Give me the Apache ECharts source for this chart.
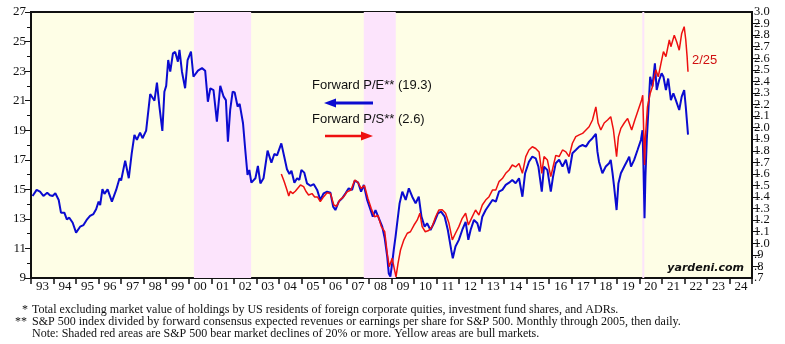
<!DOCTYPE html>
<html><head><meta charset="utf-8">
<script src="https://cdn.jsdelivr.net/npm/echarts@6/dist/echarts.min.js"></script>
<style>html,body{margin:0;padding:0;background:#fff;}#c{width:785px;height:344px;}</style>
</head><body><div id="c"></div>
<script>
// Decimal-year dates and values
const peX = [1993.07,1993.25,1993.4,1993.55,1993.72,1993.84,1993.96,1994.08,1994.23,1994.33,1994.48,1994.59,1994.7,1994.85,1995.0,1995.18,1995.33,1995.47,1995.62,1995.77,1995.89,1996.0,1996.07,1996.17,1996.26,1996.4,1996.59,1996.78,1996.93,1997.0,1997.18,1997.34,1997.47,1997.59,1997.7,1997.84,1997.95,1998.11,1998.29,1998.48,1998.59,1998.7,1998.83,1998.92,1999.0,1999.09,1999.18,1999.3,1999.4,1999.52,1999.59,1999.7,1999.84,1999.95,2000.1,2000.21,2000.29,2000.41,2000.59,2000.73,2000.85,2000.96,2001.1,2001.25,2001.4,2001.55,2001.65,2001.74,2001.84,2001.95,2002.04,2002.17,2002.26,2002.41,2002.51,2002.61,2002.69,2002.78,2002.96,2003.07,2003.18,2003.32,2003.5,2003.67,2003.8,2003.92,2004.11,2004.24,2004.36,2004.47,2004.56,2004.69,2004.81,2004.91,2005.0,2005.13,2005.25,2005.4,2005.55,2005.7,2005.84,2005.99,2006.14,2006.29,2006.41,2006.51,2006.66,2006.81,2006.96,2007.1,2007.25,2007.37,2007.52,2007.65,2007.77,2007.92,2008.07,2008.17,2008.29,2008.44,2008.59,2008.7,2008.81,2008.88,2008.95,2009.03,2009.1,2009.18,2009.25,2009.36,2009.48,2009.63,2009.77,2009.92,2010.07,2010.21,2010.33,2010.47,2010.58,2010.73,2010.88,2011.06,2011.2,2011.36,2011.5,2011.65,2011.72,2011.84,2011.99,2012.14,2012.29,2012.41,2012.51,2012.66,2012.81,2012.91,2013.03,2013.18,2013.33,2013.48,2013.63,2013.77,2013.92,2014.07,2014.22,2014.36,2014.51,2014.66,2014.81,2014.93,2015.1,2015.25,2015.4,2015.52,2015.67,2015.77,2015.92,2016.07,2016.17,2016.29,2016.44,2016.59,2016.74,2016.88,2017.03,2017.18,2017.33,2017.48,2017.63,2017.77,2017.92,2018.07,2018.14,2018.21,2018.36,2018.51,2018.66,2018.73,2018.81,2018.88,2018.99,2019.07,2019.18,2019.33,2019.48,2019.55,2019.63,2019.77,2019.92,2020.07,2020.14,2020.18,2020.23,2020.27,2020.33,2020.41,2020.48,2020.58,2020.69,2020.77,2020.88,2020.99,2021.07,2021.18,2021.28,2021.4,2021.51,2021.62,2021.77,2021.88,2021.99,2022.06,2022.12,2022.16];
const peY = [14.55,14.96,14.84,14.55,14.77,14.6,14.55,14.73,14.28,13.42,13.42,12.97,13.08,12.74,12.07,12.47,12.58,12.93,13.2,13.33,13.65,14.17,13.94,15.02,14.69,15.0,14.17,14.96,15.75,15.6,16.94,15.75,17.44,18.68,18.35,18.84,18.46,18.97,21.45,21.0,22.22,20.6,18.95,21.6,22.0,23.75,22.96,24.2,24.3,23.64,24.43,22.96,21.84,23.75,24.32,22.62,22.57,23.03,23.2,23.03,20.93,21.84,21.72,19.58,22.0,21.27,21.04,18.23,20.37,21.61,21.55,20.6,20.78,19.47,17.66,15.97,16.31,15.45,15.75,16.58,15.4,15.75,17.62,16.8,17.39,17.3,18.11,17.21,16.36,16.04,16.26,15.44,15.75,15.64,16.31,16.13,15.4,15.24,15.35,14.96,14.28,14.73,14.84,14.77,13.83,13.6,14.17,14.39,14.73,15.07,14.96,15.6,15.45,14.84,15.3,14.28,13.6,13.15,13.6,13.04,12.47,11.69,10.45,9.3,9.09,10.0,10.9,11.8,12.7,14.06,14.84,14.28,15.07,14.5,14.06,14.5,13.15,12.47,12.7,12.25,12.7,13.38,13.49,13.15,12.25,10.9,10.33,11.13,11.58,12.25,12.8,11.58,12.25,12.93,12.7,12.14,13.15,13.6,13.94,14.28,14.17,14.84,14.96,15.3,15.45,15.63,15.41,15.75,14.5,16.09,16.87,17.21,17.1,16.54,14.84,16.54,16.3,14.84,15.86,16.77,17.0,16.54,17.0,16.09,17.44,17.66,17.89,18.0,17.89,18.23,18.46,18.75,17.55,16.87,16.09,16.54,16.77,16.99,16.09,15.18,13.6,15.4,16.09,16.54,16.99,17.21,16.54,16.99,17.66,18.34,19.0,16.77,13.04,15.86,18.34,20.6,22.62,21.95,23.53,21.72,22.4,22.85,22.62,21.72,22.5,21.04,21.5,21.04,20.37,21.27,21.72,20.6,19.47,18.7];

const psX = [2004.11,2004.24,2004.36,2004.44,2004.51,2004.61,2004.73,2004.96,2005.1,2005.2,2005.32,2005.47,2005.59,2005.72,2005.84,2005.99,2006.14,2006.29,2006.44,2006.56,2006.7,2006.88,2007.03,2007.2,2007.37,2007.5,2007.65,2007.8,2007.95,2008.1,2008.25,2008.4,2008.55,2008.7,2008.81,2008.9,2009.03,2009.12,2009.2,2009.29,2009.4,2009.55,2009.7,2009.84,2010.0,2010.14,2010.26,2010.36,2010.5,2010.65,2010.8,2010.96,2011.1,2011.25,2011.4,2011.55,2011.7,2011.84,2011.99,2012.14,2012.29,2012.41,2012.55,2012.73,2012.88,2013.03,2013.18,2013.33,2013.48,2013.63,2013.77,2013.92,2014.07,2014.22,2014.36,2014.51,2014.66,2014.81,2014.96,2015.1,2015.25,2015.4,2015.55,2015.67,2015.77,2015.92,2016.07,2016.17,2016.29,2016.44,2016.59,2016.74,2016.88,2017.03,2017.18,2017.33,2017.48,2017.63,2017.77,2017.92,2018.07,2018.17,2018.29,2018.44,2018.59,2018.73,2018.85,2018.99,2019.07,2019.18,2019.33,2019.48,2019.55,2019.66,2019.8,2019.95,2020.1,2020.15,2020.2,2020.23,2020.27,2020.36,2020.48,2020.58,2020.73,2020.84,2020.96,2021.07,2021.18,2021.33,2021.4,2021.55,2021.66,2021.77,2021.88,2021.99,2022.06,2022.12,2022.16];
const psY = [1.60,1.533,1.461,1.409,1.45,1.43,1.45,1.504,1.49,1.45,1.418,1.43,1.40,1.40,1.36,1.403,1.437,1.43,1.331,1.32,1.374,1.403,1.446,1.46,1.547,1.53,1.475,1.50,1.389,1.30,1.23,1.24,1.144,1.10,0.913,0.798,0.87,0.784,0.71,0.827,0.942,1.03,1.087,1.10,1.158,1.20,1.26,1.144,1.10,1.11,1.144,1.23,1.288,1.29,1.26,1.173,1.03,1.087,1.144,1.216,1.26,1.158,1.216,1.288,1.245,1.331,1.374,1.403,1.46,1.46,1.533,1.56,1.605,1.634,1.677,1.66,1.69,1.605,1.749,1.807,1.835,1.82,1.79,1.605,1.75,1.72,1.576,1.66,1.76,1.75,1.807,1.79,1.75,1.865,1.922,1.937,1.95,1.98,2.008,2.066,2.18,2.04,1.98,2.04,2.066,2.095,1.98,1.749,1.92,1.994,2.04,2.08,2.095,1.98,2.066,2.153,2.24,2.28,1.92,1.677,1.92,2.18,2.295,2.354,2.5,2.44,2.556,2.657,2.614,2.758,2.70,2.80,2.74,2.67,2.815,2.873,2.76,2.614,2.484];

// Bear markets (shaded)
const bearStart = [2000.23, 2007.77, 2020.13];
const bearEnd   = [2002.77, 2009.19, 2020.22];

const yearMin = 1993, yearMax = 2025;
// right axis expressed in tenths (7..30 => .7..3.0)
const psMinTenths = 7, psMaxTenths = 30;

const chart = echarts.init(document.getElementById('c'), null, {renderer:'canvas'});
const serif = "'Liberation Serif', 'Times New Roman', serif";
const sans = "'Liberation Sans', Arial, sans-serif";
const psFmt = v => v < 10 ? '.' + v : (v / 10).toFixed(1);
const rightLabel = {color: '#111', fontFamily: serif, fontSize: 12.5, margin: 2};

const option = {
  animation: false,
  backgroundColor: '#ffffff',
  grid: {left: 31, right: 33, top: 12, bottom: 66, show: true, backgroundColor: '#FEFEE6', borderColor: '#111', borderWidth: 2},
  xAxis: {
    type: 'value', min: yearMin, max: yearMax, interval: 1,
    axisLine: {show: true, lineStyle: {color: '#111', width: 2}},
    axisTick: {show: true, inside: false, length: 6, lineStyle: {color: '#111', width: 1.5}},
    splitLine: {show: false},
    axisLabel: {
      color: '#111', fontFamily: serif, fontSize: 13, margin: 2, align: 'left', padding: [0,0,0,5],
      formatter: v => v >= yearMax ? '' : String(v % 100).padStart(2, '0')
    }
  },
  yAxis: [
    {
      type: 'value', min: 9, max: 27, interval: 2, position: 'left',
      axisLine: {show: true, lineStyle: {color: '#111', width: 2}},
      axisTick: {show: true, inside: false, length: 6, lineStyle: {color: '#111'}},
      minorTick: {show: true, splitNumber: 2, length: 4, lineStyle: {color: '#111'}},
      splitLine: {show: false},
      axisLabel: {color: '#111', fontFamily: serif, fontSize: 13, margin: 5}
    },
    {
      type: 'value', min: psMinTenths, max: psMaxTenths, interval: 1, position: 'right',
      axisLine: {show: true, lineStyle: {color: '#111', width: 2}},
      axisTick: {show: true, inside: false, length: 8, lineStyle: {color: '#111'}},
      splitLine: {show: false},
      axisLabel: Object.assign({}, rightLabel, {showMinLabel: false, showMaxLabel: false, formatter: psFmt})
    },
    {
      type: 'value', min: psMinTenths, max: psMaxTenths, interval: 1, position: 'right',
      axisLine: {show: false}, axisTick: {show: false}, splitLine: {show: false},
      axisLabel: Object.assign({}, rightLabel, {showMinLabel: true, showMaxLabel: true,
        formatter: v => (v === psMinTenths || v === psMaxTenths) ? psFmt(v) : ''})
    }
  ],
  series: [
    {
      type: 'line', name: 'bears', data: [], z: 1, silent: true,
      markArea: {silent: true, itemStyle: {color: '#FCE4FC'},
        data: bearStart.map((s, i) => [{xAxis: s}, {xAxis: bearEnd[i]}])}
    },
    {
      type: 'line', name: 'Forward P/E', yAxisIndex: 0, showSymbol: false, z: 3,
      data: peX.map((x, i) => [x, peY[i]]),
      lineStyle: {color: '#0b0bd0', width: 2}, itemStyle: {color: '#0b0bd0'}
    },
    {
      type: 'line', name: 'Forward P/S', yAxisIndex: 1, showSymbol: false, z: 4,
      data: psX.map((x, i) => [x, psY[i] * 10]),
      lineStyle: {color: '#ee1010', width: 1.5}, itemStyle: {color: '#ee1010'}
    }
  ],
  graphic: [
    {type: 'text', z: 100, left: 312, top: 79, style: {text: 'Forward P/E** (19.3)', fontSize: 13, fontFamily: sans, fill: '#111'}},
    {type: 'line', z: 100, shape: {x1: 333, y1: 103, x2: 373, y2: 103}, style: {stroke: '#0b0bd0', lineWidth: 3}},
    {type: 'polygon', z: 100, shape: {points: [[324, 103], [336, 98.5], [336, 107.5]]}, style: {fill: '#0b0bd0'}},
    {type: 'text', z: 100, left: 312, top: 113, style: {text: 'Forward P/S** (2.6)', fontSize: 13, fontFamily: sans, fill: '#111'}},
    {type: 'line', z: 100, shape: {x1: 325, y1: 136, x2: 364, y2: 136}, style: {stroke: '#ee1010', lineWidth: 2.5}},
    {type: 'polygon', z: 100, shape: {points: [[373, 136], [361, 131.5], [361, 140.5]]}, style: {fill: '#ee1010'}},
    {type: 'text', z: 100, left: 692, top: 54, style: {text: '2/25', fontSize: 13, fontFamily: sans, fill: '#d01010'}},
    {type: 'text', z: 100, right: 41, top: 263, style: {text: 'yardeni.com', fontSize: 11, fontStyle: 'italic', fontWeight: 'bold', fontFamily: "'DejaVu Sans', Verdana, sans-serif", fill: '#111'}},
    {type: 'text', z: 100, left: 22, top: 304, style: {text: '*', fontSize: 12, fontFamily: serif, fill: '#111'}},
    {type: 'text', z: 100, left: 32, top: 304, style: {text: 'Total excluding market value of holdings by US residents of foreign corporate quities, investment fund shares, and ADRs.', fontSize: 12, fontFamily: serif, fill: '#111'}},
    {type: 'text', z: 100, left: 15, top: 316, style: {text: '**', fontSize: 12, fontFamily: serif, fill: '#111'}},
    {type: 'text', z: 100, left: 32, top: 316, style: {text: 'S&P 500 index divided by forward consensus expected revenues or earnings per share for S&P 500. Monthly through 2005, then daily.', fontSize: 12, fontFamily: serif, fill: '#111'}},
    {type: 'text', z: 100, left: 32, top: 328, style: {text: 'Note: Shaded red areas are S&P 500 bear market declines of 20% or more. Yellow areas are bull markets.', fontSize: 12, fontFamily: serif, fill: '#111'}}
  ]
};
chart.setOption(option);
</script>
</body></html>
